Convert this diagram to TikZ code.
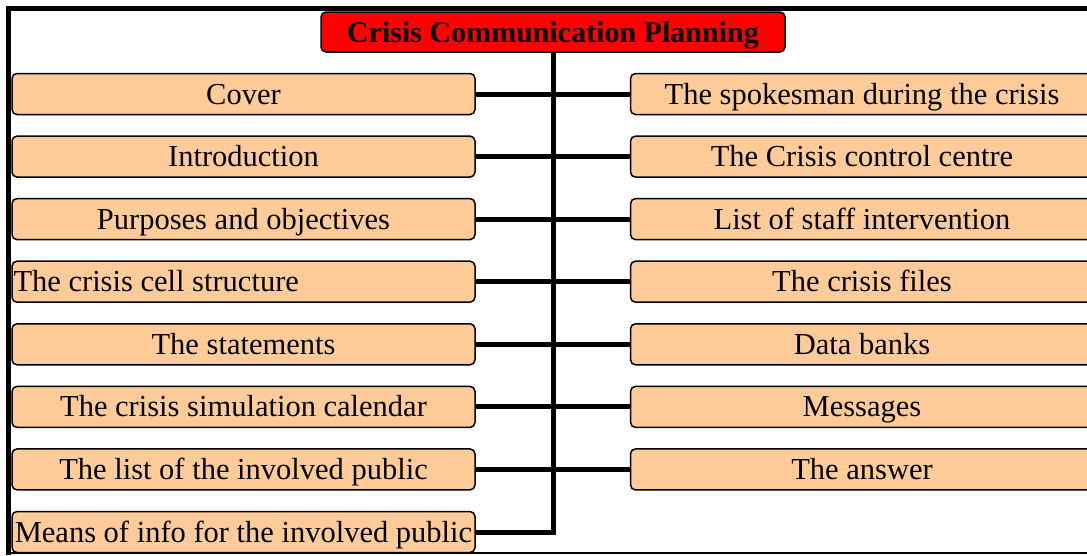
\documentclass[tikz,border=0pt]{standalone}
\usepackage{fontspec}
\setmainfont{Liberation Serif}
\definecolor{peach}{HTML}{FFCC99}
\definecolor{titlered}{HTML}{FF0000}
\begin{document}
\begin{tikzpicture}[x=1pt,y=-1pt,
  item/.style={draw=black,line width=1.5pt,fill=peach,rounded corners=5pt,
    minimum width=463pt,minimum height=41pt,inner sep=0pt,
    text height=24pt,text depth=4pt,
    font=\fontsize{30.5}{36}\selectfont},
  titlebox/.style={draw=black,line width=1.5pt,fill=titlered,rounded corners=5pt,
    minimum width=464pt,minimum height=40pt,inner sep=0pt,
    text height=24pt,text depth=4pt,
    font=\fontsize{30}{36}\selectfont\bfseries},
  conn/.style={draw=black,line width=5pt},
  frame/.style={draw=black}]
\path[use as bounding box,clip] (0,0) rectangle (1087,555);
\fill[white] (0,0) rectangle (1087,555);
% frame
\draw[frame,line width=5pt] (8,555) -- (8,8) -- (1100,8);
\draw[frame,line width=2pt] (8,553) -- (1100,553);
% title
\node[titlebox] (T) at (553,32) {Crisis Communication Planning};
% left column
\node[item] (L1) at (243.5,94) {Cover};
\node[item] (L2) at (243.5,156.6) {Introduction};
\node[item] (L3) at (243.5,219.1) {Purposes and objectives};
\node[item] (L4) at (243.5,281.7) {\makebox[460pt][l]{The crisis cell structure}};
\node[item] (L5) at (243.5,344.3) {The statements};
\node[item] (L6) at (243.5,406.9) {The crisis simulation calendar};
\node[item] (L7) at (243.5,469.4) {The list of the involved public};
\node[item] (L8) at (243.5,532) {Means of info for the involved public};
% right column
\node[item] (R1) at (862,94) {The spokesman during the crisis};
\node[item] (R2) at (862,156.6) {The Crisis control centre};
\node[item] (R3) at (862,219.1) {List of staff intervention};
\node[item] (R4) at (862,281.7) {The crisis files};
\node[item] (R5) at (862,344.3) {Data banks};
\node[item] (R6) at (862,406.9) {Messages};
\node[item] (R7) at (862,469.4) {The answer};
% connectors
\draw[conn] (T.south) |- (L8.east);
\foreach \i in {1,...,7} {
  \draw[conn] (L\i.east) -- (R\i.west);
}
\end{tikzpicture}
\end{document}
